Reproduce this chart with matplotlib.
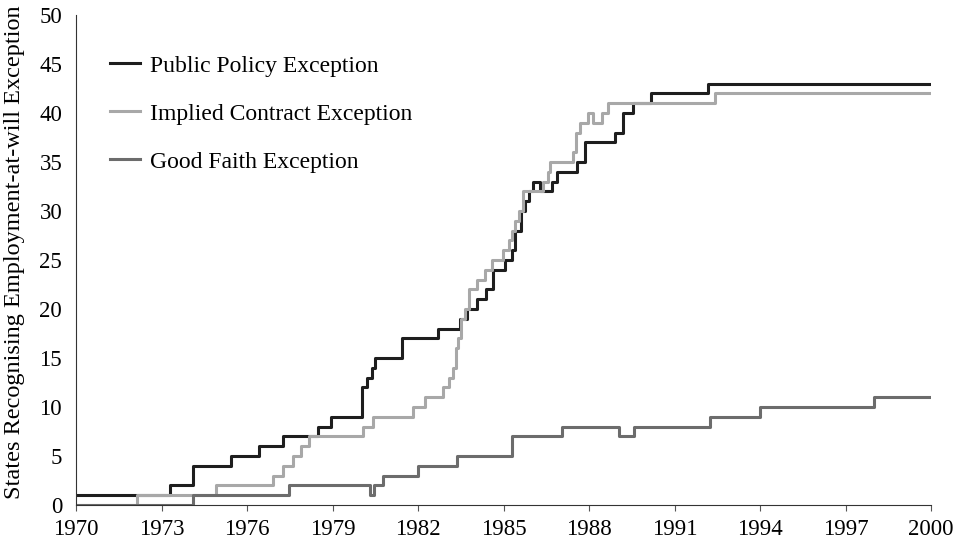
import numpy as np
import matplotlib
matplotlib.use('Agg')
import matplotlib.pyplot as plt

# change points: (year, number of states from that point on)
public_years = [1970, 1973.3, 1974.12, 1975.44, 1976.43, 1977.25, 1978.5, 1978.95,
                1980.05, 1980.2, 1980.37, 1980.49, 1981.43, 1982.71, 1983.47, 1983.71,
                1984.06, 1984.4, 1984.64, 1985.05, 1985.29, 1985.4, 1985.6, 1985.75,
                1985.9, 1986.05, 1986.28, 1986.69, 1986.87, 1987.57, 1987.86, 1988.91,
                1989.2, 1989.56, 1990.17, 1992.19, 2000]
public_vals = [1, 2, 4, 5, 6, 7, 8, 9,
               12, 13, 14, 15, 17, 18, 19, 20,
               21, 22, 24, 25, 26, 28, 30, 31,
               32, 33, 32, 33, 34, 35, 37, 38,
               40, 41, 42, 43, 43]

implied_years = [1970, 1972.15, 1974.91, 1976.92, 1977.25, 1977.63, 1977.88, 1978.19,
                 1980.06, 1980.41, 1981.84, 1982.25, 1982.89, 1983.07, 1983.24, 1983.32,
                 1983.42, 1983.5, 1983.65, 1983.78, 1984.06, 1984.35, 1984.59, 1984.99,
                 1985.2, 1985.3, 1985.4, 1985.55, 1985.7, 1986.4, 1986.57, 1986.63,
                 1987.45, 1987.55, 1987.7, 1987.98, 1988.15, 1988.45, 1988.68, 1992.42, 2000]
implied_vals = [0, 1, 2, 3, 4, 5, 6, 7,
                8, 9, 10, 11, 12, 13, 14, 16,
                17, 19, 20, 22, 23, 24, 25, 26,
                27, 28, 29, 30, 32, 33, 34, 35,
                36, 38, 39, 40, 39, 40, 41, 42, 42]

faith_years = [1970, 1974.09, 1977.49, 1980.32, 1980.45, 1980.78, 1981.99, 1983.36,
               1985.31, 1987.04, 1989.06, 1989.58, 1992.25, 1994.0, 1998.01, 2000]
faith_vals = [0, 1, 2, 1, 2, 3, 4, 5,
              7, 8, 7, 8, 9, 10, 11, 11]

labels = ['Public Policy Exception', 'Implied Contract Exception', 'Good Faith Exception']
colors = ['#1e1e1e', '#a8a8a8', '#6c6c6c']

x_ticks = np.arange(1970, 2001, 3)
y_ticks = np.arange(0, 51, 5)

plt.rcParams['font.family'] = ['Liberation Serif', 'DejaVu Serif']

fig = plt.figure(figsize=(9.6, 5.43), dpi=100)
ax = fig.add_subplot(111)
fig.subplots_adjust(left=0.0792, right=0.9698, bottom=0.070, top=0.9724)

series = [(public_years, public_vals), (implied_years, implied_vals), (faith_years, faith_vals)]
for (xs, ys), lab, col in zip(series, labels, colors):
    ax.plot(xs, ys, drawstyle='steps-post', color=col, lw=2.2, label=lab)

ax.set_xlim(1970, 2000)
ax.set_ylim(0, 50)
ax.set_xticks(x_ticks)
ax.set_yticks(y_ticks)
ax.tick_params(axis='x', direction='out', length=4, width=0.8, color='#555555',
               labelsize=16.5, pad=6)
ax.tick_params(axis='y', length=0, labelsize=16.5, pad=10)
for s in ['top', 'right']:
    ax.spines[s].set_visible(False)
for s in ['left', 'bottom']:
    ax.spines[s].set_color('#333333')
    ax.spines[s].set_linewidth(0.8)

ax.set_ylabel('States Recognising Employment-at-will Exception', fontsize=17.5)
ax.yaxis.set_label_coords(-0.06, 0.515)

ax.legend(loc='upper left', bbox_to_anchor=(0.04, 0.918), frameon=False, fontsize=17,
          handlelength=1.25, handletextpad=0.45, labelspacing=1.12, borderpad=0,
          borderaxespad=0)

fig.savefig('out.png', dpi=100)
